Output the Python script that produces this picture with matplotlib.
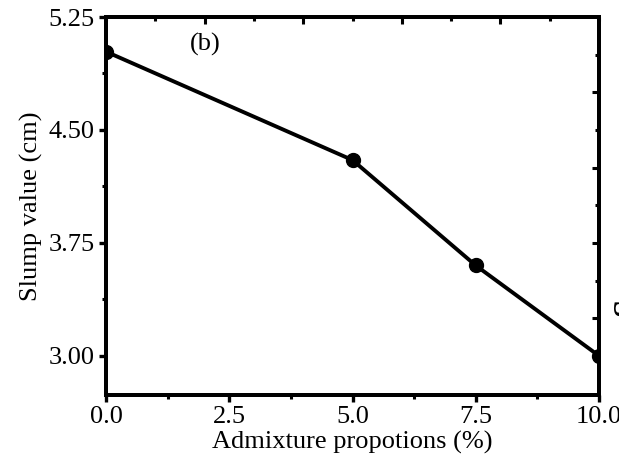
import matplotlib
matplotlib.use("Agg")
import matplotlib.pyplot as plt
from matplotlib.ticker import MultipleLocator

admixture = [0.0, 5.0, 7.5, 10.0]
slump = [5.02, 4.30, 3.60, 3.00]
xticks = [0.0, 2.5, 5.0, 7.5, 10.0]
yticks = [3.00, 3.75, 4.50, 5.25]

plt.rcParams['font.family'] = ['Liberation Serif', 'DejaVu Serif']
plt.rcParams['font.size'] = 19

fig = plt.figure(figsize=(6.19, 4.66), dpi=100)
ax = fig.add_axes([106/619, 1-395/466, (599-106)/619, (395-17)/466])

ax.plot(admixture, slump, color='black', lw=2.8, marker='o', ms=10, clip_on=True, zorder=3)
ax.set_xlim(0, 10)
ax.set_ylim(2.74, 5.25)
ax.set_xticks(xticks)
ax.set_xticklabels([f"{v:.1f}" for v in xticks])
ax.set_yticks(yticks)
ax.set_yticklabels([f"{v:.2f}" for v in yticks])
ax.xaxis.set_minor_locator(MultipleLocator(1.25))
ax.yaxis.set_minor_locator(MultipleLocator(0.375))
ax.tick_params(which='major', direction='out', length=5, width=2.4, top=False, right=False, pad=3)
ax.tick_params(which='minor', direction='out', length=3, width=2.2, top=False, right=False)
for s in ax.spines.values():
    s.set_linewidth(2.8)

# secondary tick marks on top and right spines
axt = ax.twiny()
axt.set_xlim(0, 10)
axt.set_xticks([2, 4, 6, 8])
axt.xaxis.set_minor_locator(MultipleLocator(1))
axt.tick_params(axis='x', which='major', direction='in', length=5, width=2.2, labeltop=False)
axt.tick_params(axis='x', which='minor', direction='in', length=3, width=2.2)
axr = ax.twinx()
axr.set_ylim(2.74, 5.25)
axr.set_yticks([3.25, 3.75, 4.25, 4.75])
axr.set_yticks([3.5, 4.0, 4.5, 5.0], minor=True)
axr.tick_params(axis='y', which='major', direction='in', length=5, width=2.2, labelright=False)
axr.tick_params(axis='y', which='minor', direction='in', length=3, width=2.2)
for a in (axt, axr):
    for s in a.spines.values():
        s.set_linewidth(2.8)

ax.set_xlabel("Admixture propotions (%)", labelpad=2)
ax.set_ylabel("Slump value (cm)", labelpad=4)
ax.text(1.7, 5.07, "(b)", ha='left', va='center', fontsize=19)
fig.text(611/619, 1-307/466, "S", rotation=90, ha='left', va='center', fontsize=24, fontweight='bold')

fig.savefig("out.png", dpi=100)
